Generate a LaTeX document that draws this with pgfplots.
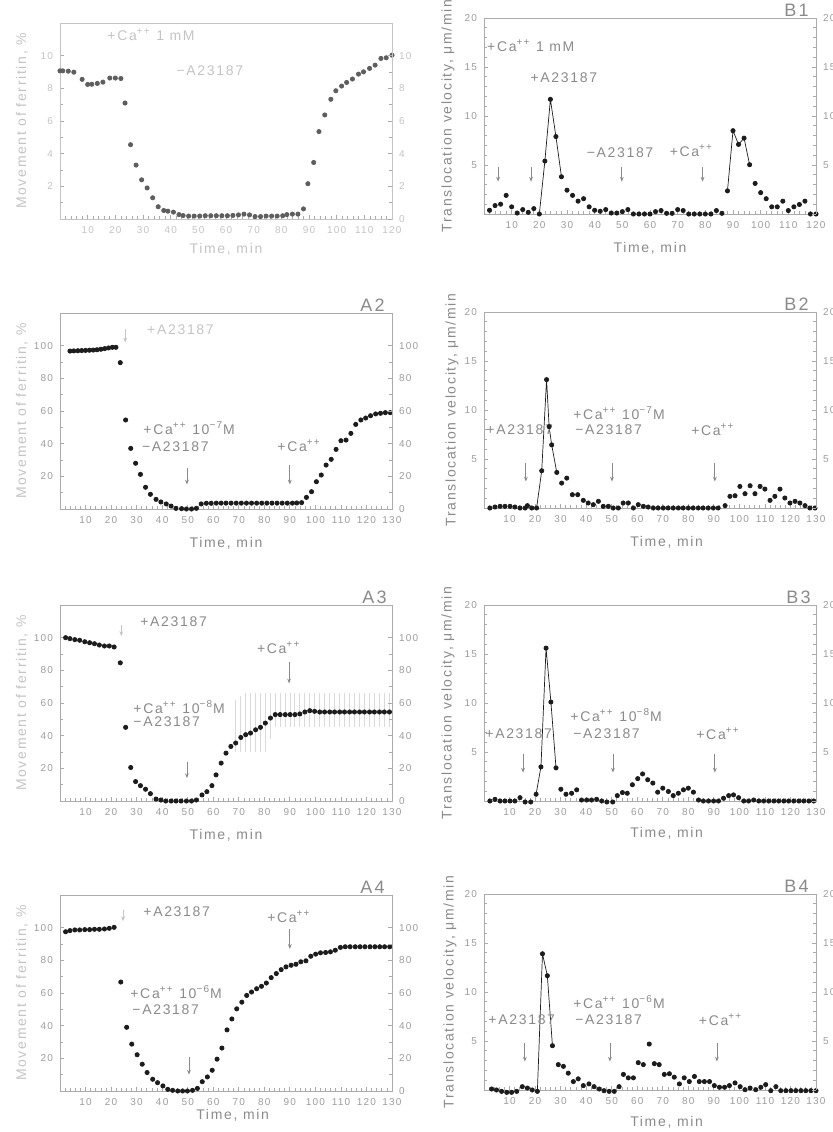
\documentclass[border=0pt]{standalone}
\usepackage{pgfplots}
\pgfplotsset{compat=1.18}
\usepackage{fontspec}
\setmainfont{Liberation Sans}[LetterSpace=12]
\usetikzlibrary{arrows.meta}
\definecolor{axc}{HTML}{ABABAB}
\definecolor{tlc}{HTML}{9C9C9C}
\definecolor{anc}{HTML}{8A8A8A}
\definecolor{fad}{HTML}{C4C4C4}
\definecolor{mk}{HTML}{1C1C1C}
\definecolor{mka}{HTML}{5E5E5E}
\definecolor{ebc}{HTML}{DADADA}
\newcommand{\tl}{\fontsize{5}{6}\selectfont}
\newcommand{\an}{\fontsize{7}{8}\selectfont}
\newcommand{\pl}{\fontsize{9}{10}\selectfont}
\newcommand{\Ca}{Ca\textsuperscript{++}}
\tikzset{
  ann/.style={anchor=west, font=\an, text=anc, inner sep=0pt},
  arr/.style={draw=anc, line width=0.4pt, -{Stealth[length=2.4pt,width=1.9pt]}},
  tlab/.style={font=\an, text=anc},
  plab/.style={anchor=south east, font=\pl, text=anc, inner sep=0.5pt},
  ylabB/.style={rotate=90, font=\an, text=anc},
}
\pgfplotsset{
  base/.style={scale only axis, width=166pt, height=98pt, clip=false,
    axis line style={draw=axc, line width=0.45pt},
    tick style={draw=axc, line width=0.35pt},
    tick align=inside, major tick length=2.2pt, minor tick length=1.3pt,
    tick label style={font=\tl, text=tlc},
    /pgf/number format/assume math mode=true,
    xtick pos=bottom, minor x tick num=4},
  Ax/.style={base, xmin=0, xmax=130, ymin=0, ymax=120,
    xtick={0,10,...,130}, xticklabels={,10,20,30,40,50,60,70,80,90,100,110,120,130},
    ytick={0,20,...,100}, minor y tick num=1},
  AL/.style={Ax, ytick pos=left, yticklabels={,20,40,60,80,100}},
  AR/.style={Ax, axis x line=none, axis y line*=right, yticklabels={0,20,40,60,80,100}},
  Bx/.style={base, xmin=0, xmax=130, ymin=0, ymax=20,
    xtick={0,10,...,130}, xticklabels={,10,20,30,40,50,60,70,80,90,100,110,120,130},
    ytick={0,5,10,15,20}, minor y tick num=4},
  BL/.style={Bx, ytick pos=left, yticklabels={,5,10,15,20}},
  BR/.style={Bx, axis x line=none, axis y line*=right, yticklabels={,5,10,15,20}},
  dots/.style={only marks, mark=*, mark size=1.05pt, mark options={draw=mk, fill=mk}},
  pk/.style={mk, line width=0.35pt, mark=none},
}
\begin{document}
\begin{tikzpicture}
\path[use as bounding box] (0pt,0pt) rectangle (416pt,566pt);

% ---------------- A1 ----------------
\begin{axis}[base, at={(30pt,456.5pt)}, anchor=south west, xmin=0, xmax=120, ymin=0, ymax=12,
  xtick={0,10,...,120}, xticklabels={,10,20,30,40,50,60,70,80,90,100,110,120},
  ytick={0,2,...,10}, minor y tick num=1, ytick pos=left, yticklabels={,2,4,6,8,10},
  axis line style={draw=fad}, tick label style={text=fad}]
\addplot[dots, mark options={draw=mka, fill=mka}] coordinates {
(0,9.07)(1,9.07)(3,9.05)(5,8.99)(8,8.55)(10,8.24)(11.5,8.25)(13.5,8.30)(15.5,8.38)(18,8.63)(20,8.63)(22,8.60)
(23.5,7.1)(25.5,4.55)(27.5,3.3)(29.5,2.4)(31.5,1.9)(33.5,1.3)(35.5,0.75)(37.5,0.52)(39,0.48)(41,0.42)(43,0.27)(44.5,0.21)
(46.5,0.18)(48.5,0.18)(50.5,0.18)(52.5,0.2)(54.5,0.2)(56.5,0.2)(58.5,0.2)(60.5,0.2)(62.5,0.22)(64.5,0.25)(66.5,0.3)(68.5,0.25)
(70.5,0.15)(72.5,0.15)(74.5,0.18)(76.5,0.18)(78.5,0.18)(80.5,0.2)(82,0.27)(84,0.3)(86,0.3)(88,0.62)(89.6,2.16)(91.7,3.46)
(93.6,5.35)(95.7,6.37)(97.9,7.33)(99.7,7.85)(101.8,8.14)(103.6,8.36)(105.7,8.57)(107.9,8.87)(109.7,9.01)(111.9,9.22)
(113.9,9.42)(116,9.83)(117.9,9.87)(120,10.03)};
\node[ann, text=fad] at (axis cs:17,11.3) {+\Ca{} 1 mM};
\node[ann, text=fad] at (axis cs:42,9.1) {−A23187};
\node[tlab, text=fad] at ([yshift=-15pt]rel axis cs:0.5,0) {Time, min};
\node[ylabB, text=fad] at ([xshift=-19pt]rel axis cs:0,0.5) {Movement of ferritin, \%};
\end{axis}
\begin{axis}[base, at={(30pt,456.5pt)}, anchor=south west, xmin=0, xmax=120, ymin=0, ymax=12,
  axis x line=none, axis y line*=right, ytick={0,2,...,10}, minor y tick num=1,
  axis line style={draw=fad}, tick label style={text=fad}]
\end{axis}

% ---------------- B1 ----------------
\begin{axis}[Bx, at={(242pt,459pt)}, anchor=south west, xmax=120,
  xtick={0,10,...,120}, xticklabels={,10,20,30,40,50,60,70,80,90,100,110,120},
  ytick pos=left, yticklabels={,5,10,15,20}]
\addplot[pk] coordinates {(20,0)(22,5.4)(24,11.7)(26,7.9)(28,3.8)};
\addplot[pk] coordinates {(88,2.36)(90,8.5)(92,7.1)(94,7.74)(96,5.03)};
\addplot[dots] coordinates {
(2,0.38)(4,0.86)(6,1.0)(8,1.9)(10,0.73)(12,0.1)(14,0.45)(16,0.17)(18,0.55)(20,0)(22,5.4)(24,11.7)(26,7.9)(28,3.8)
(30,2.43)(32,1.9)(34,1.31)(36,1.56)(38,0.73)(40,0.38)(42,0.28)(44,0.45)(46,0.1)(48,0.1)(50,0.24)(52,0.45)(54,0)(56,0)
(58,0)(60,0)(62,0.24)(64,0.35)(66,0.07)(68,0.07)(70,0.45)(72,0.35)(74,0)(76,0)(78,0)(80,0)(82,0)(84,0.35)(86,0.07)
(88,2.36)(90,8.5)(92,7.1)(94,7.74)(96,5.03)(98,3.12)(100,2.18)(102,1.56)(104,0.73)(106,0.73)(108,1.31)(110,0.35)
(112,0.73)(114,0.97)(116,1.31)(118,0)(120,0)};
\node[ann] at (axis cs:1,17.2) {+\Ca{} 1 mM};
\node[ann] at (axis cs:16.7,13.9) {+A23187};
\node[ann] at (axis cs:37,6.3) {−A23187};
\node[ann] at (axis cs:67,6.5) {+\Ca};
\draw[arr] (axis cs:5.1,4.8) -- (axis cs:5.1,3.3);
\draw[arr] (axis cs:17,4.8) -- (axis cs:17,3.3);
\draw[arr] (axis cs:49.8,4.8) -- (axis cs:49.8,3.3);
\draw[arr] (axis cs:79,4.8) -- (axis cs:79,3.3);
\node[plab] at ([xshift=-3pt]rel axis cs:1,1) {B1};
\node[tlab] at ([yshift=-17pt]rel axis cs:0.5,0) {Time, min};
\node[ylabB] at ([xshift=-18pt]rel axis cs:0,0.5) {Translocation velocity, μm/min};
\end{axis}
\begin{axis}[BR, at={(242pt,459pt)}, anchor=south west, xmax=120]
\end{axis}

% ---------------- A2 ----------------
\begin{axis}[AL, at={(30pt,311.5pt)}, anchor=south west]
\addplot[dots] coordinates {
(3.9,96.7)(5.4,96.8)(7,96.9)(8.5,97.0)(10,97.1)(11.5,97.2)(13,97.3)(14.5,97.5)(16,97.8)(17.5,98.2)(19,98.6)(20.5,99.0)(21.9,99.0)
(23.6,89.6)(25.7,54.5)(27.7,37.1)(29.6,28)(31.5,21.2)(33.5,13.3)(35.4,9.0)(37.6,5.9)(39.5,4.3)(41.6,3.1)(43.5,1.8)(45.4,0.4)
(47.6,0.2)(49.5,0)(51.5,0)(53.4,0.4)(55.3,3.1)(57.3,3.5)(59.2,3.5)(61.2,3.6)(63.1,3.6)(65,3.6)(67,3.6)(69,3.6)(71,3.6)(73,3.6)
(75,3.6)(77,3.6)(79,3.6)(81,3.6)(83,3.6)(85,3.6)(87,3.6)(89,3.6)(91,3.6)(92.7,3.7)(94.6,3.9)(96.5,7.1)(98.5,10.6)(100.4,16.7)
(102.3,20.8)(104.2,26.9)(106.2,30.4)(108.1,36.5)(110,41.8)(112,42.2)(113.9,46.3)(115.8,51.8)(117.8,54.5)(119.7,55.7)
(121.6,57.1)(123.6,58.2)(125.5,58.6)(127.4,59.0)(129.3,59.0)};
\node[ann, text=fad] at (axis cs:34,109.6) {+A23187};
\draw[arr, draw=fad] (axis cs:25.5,110) -- (axis cs:25.5,102);
\node[ann] at (axis cs:32.5,49.6) {+\Ca{} 10\textsuperscript{−7}M};
\node[ann] at (axis cs:32,38) {−A23187};
\node[ann] at (axis cs:85,39) {+\Ca};
\draw[arr] (axis cs:49.7,25) -- (axis cs:49.7,15);
\draw[arr] (axis cs:90,27) -- (axis cs:90,15);
\node[plab] at ([xshift=-3pt]rel axis cs:1,1) {A2};
\node[tlab] at ([yshift=-17pt]rel axis cs:0.5,0) {Time, min};
\node[ylabB, text=fad] at ([xshift=-19pt]rel axis cs:0,0.5) {Movement of ferritin, \%};
\end{axis}
\begin{axis}[AR, at={(30pt,311.5pt)}, anchor=south west]
\end{axis}

% ---------------- B2 ----------------
\begin{axis}[BL, at={(242pt,312pt)}, anchor=south west]
\addplot[pk] coordinates {(20.6,0)(22.6,3.8)(24.5,13.1)(25.5,8.3)(26.5,6.44)(28.5,3.63)};
\addplot[dots] coordinates {
(2.3,0)(4.3,0.1)(6.3,0.17)(8.2,0.17)(10.2,0.17)(12.1,0.1)(14.1,0)(16.1,0)(17,0.24)(18.7,0)(20.6,0)(22.6,3.8)(24.5,13.1)
(25.5,8.3)(26.5,6.44)(28.5,3.63)(30.4,2.54)(32.4,3.05)(34.6,1.36)(36.7,1.36)(38.9,0.78)(40.8,0.51)(42.8,0.34)(44.8,0.68)
(46.7,0.17)(48.7,0.17)(50.6,0)(52.6,0)(54.5,0.51)(56.5,0.51)(58.5,0)(60.4,0.34)(62.4,0.17)(64.3,0.1)(66.3,0)(68.2,0)
(70.2,0)(72.1,0)(74.1,0)(76.1,0)(78,0)(80,0)(81.9,0)(83.9,0)(85.8,0)(87.8,0)(89.8,0)(91.7,0)(94.4,0.24)(96.3,1.19)
(98.3,1.25)(100.2,2.2)(102.2,1.46)(104.2,2.27)(106.1,1.46)(108.1,2.2)(110,1.93)(112,0.78)(113.9,1.19)(115.9,1.93)
(117.8,1.02)(119.8,0.51)(121.8,0.68)(123.7,0.51)(125.7,0.24)(127.6,0)(129.6,0)};
\node[ann] at (axis cs:0.8,8.0) {+A23187};
\node[ann] at (axis cs:34.8,9.7) {+\Ca{} 10\textsuperscript{−7}M};
\node[ann] at (axis cs:35.6,8.0) {−A23187};
\node[ann] at (axis cs:81,8.0) {+\Ca};
\draw[arr] (axis cs:16.4,4.6) -- (axis cs:16.4,2.7);
\draw[arr] (axis cs:50.1,4.6) -- (axis cs:50.1,2.7);
\draw[arr] (axis cs:90.4,4.6) -- (axis cs:90.4,2.7);
\node[plab] at ([xshift=-3pt]rel axis cs:1,1) {B2};
\node[tlab] at ([yshift=-17pt]rel axis cs:0.55,0) {Time, min};
\node[ylabB] at ([xshift=-16pt]rel axis cs:0,0.5) {Translocation velocity, μm/min};
\end{axis}
\begin{axis}[BR, at={(242pt,312pt)}, anchor=south west]
\end{axis}

% ---------------- A3 ----------------
\begin{axis}[AL, at={(30pt,165.5pt)}, anchor=south west]
\addplot[draw=none, mark=*, mark size=0pt, forget plot,
  error bars/.cd, y dir=both, y explicit, error mark=none,
  error bar style={draw=ebc, line width=0.5pt}] coordinates {
(68.8,46) +- (0,16) (70.8,47) +- (0,17) (72.7,48) +- (0,18) (74.6,48) +- (0,18) (76.6,48) +- (0,18) (78.5,48) +- (0,18)
(80.4,48) +- (0,18) (82.4,52) +- (0,14) (84.3,55.5) +- (0,10.5) (86.2,55.5) +- (0,10.5) (88.2,55.5) +- (0,10.5)
(90.1,55.5) +- (0,10.5) (92,55.5) +- (0,10.5) (93.9,55.5) +- (0,10.5) (95.9,55.5) +- (0,10.5) (97.8,55.5) +- (0,10.5)
(99.7,55.5) +- (0,10.5) (101.7,55.5) +- (0,10.5) (103.6,55.5) +- (0,10.5) (105.6,55.5) +- (0,10.5) (107.5,55.5) +- (0,10.5)
(109.5,55.5) +- (0,10.5) (111.4,55.5) +- (0,10.5) (113.4,55.5) +- (0,10.5) (115.3,55.5) +- (0,10.5) (117.3,55.5) +- (0,10.5)
(119.2,55.5) +- (0,10.5) (121.2,55.5) +- (0,10.5) (123.1,55.5) +- (0,10.5) (125.1,55.5) +- (0,10.5) (127,55.5) +- (0,10.5)
(129,55.5) +- (0,10.5)};
\addplot[dots] coordinates {
(2.2,100)(3.9,99.4)(5.8,98.8)(7.7,98.4)(9.7,97.5)(11.6,96.9)(13.5,96.3)(15.4,95.5)(17.4,94.9)(19.3,94.9)(21.2,94.3)
(23.6,84.6)(25.7,45.1)(27.7,20.5)(29.6,11.9)(31.5,9.4)(33.5,7.2)(35.4,4.5)(37.6,1.2)(39.5,0.6)(41.4,0)(43.5,0)(45.4,0)
(47.4,0)(49.5,0)(51.5,0)(53.4,0.6)(55.6,3.7)(57.5,5.7)(59.5,9.4)(61.1,16)(63.1,23.2)(65,29.3)(66.9,33.4)(68.8,35.5)
(70.8,38.9)(72.7,40.6)(74.6,41.6)(76.6,43.6)(78.5,45.1)(80.4,47.7)(82.4,50.8)(84.3,52.9)(86.2,52.9)(88.2,52.9)(90.1,52.9)
(92,52.9)(93.9,53.3)(95.9,54.5)(97.8,55.3)(99.7,54.9)(101.7,54.5)(103.6,54.5)(105.6,54.5)(107.5,54.5)(109.5,54.5)
(111.4,54.5)(113.4,54.5)(115.3,54.5)(117.3,54.5)(119.2,54.5)(121.2,54.5)(123.1,54.5)(125.1,54.5)(127,54.5)(129,54.5)};
\node[ann] at (axis cs:31.3,109.6) {+A23187};
\draw[arr, draw=fad] (axis cs:24,108) -- (axis cs:24,101);
\node[ann] at (axis cs:77,94) {+\Ca};
\draw[arr] (axis cs:89.7,85) -- (axis cs:89.7,72);
\node[ann] at (axis cs:28.6,57.6) {+\Ca{} 10\textsuperscript{−8}M};
\node[ann] at (axis cs:28.6,48.4) {−A23187};
\draw[arr] (axis cs:49.7,24) -- (axis cs:49.7,14);
\node[plab] at ([xshift=-2pt]rel axis cs:1,1) {A3};
\node[tlab] at ([yshift=-17pt]rel axis cs:0.5,0) {Time, min};
\node[ylabB, text=fad] at ([xshift=-19pt]rel axis cs:0,0.5) {Movement of ferritin, \%};
\end{axis}
\begin{axis}[AR, at={(30pt,165.5pt)}, anchor=south west]
\end{axis}

% ---------------- B3 ----------------
\begin{axis}[BL, at={(242pt,165.5pt)}, anchor=south west]
\addplot[pk] coordinates {(20.4,0.69)(22.3,3.48)(24.3,15.6)(26.2,10.1)(28.2,3.38)};
\addplot[dots] coordinates {
(2.3,0)(4.3,0.17)(6.3,0)(8.2,0)(10.2,0)(12.1,0)(14.1,0.34)(16.1,-0.1)(18.3,-0.1)(20.4,0.69)(22.3,3.48)(24.3,15.6)
(26.2,10.1)(28.2,3.38)(30.1,1.2)(32.1,0.69)(34.3,0.79)(36.3,1.14)(38.2,0.1)(40.2,0.1)(42.1,0.1)(44.1,0.17)(46.1,0)
(48.1,-0.1)(50.4,-0.1)(52.2,0.55)(54.2,0.86)(56.1,0.79)(58.1,1.66)(60.2,2.28)(62.1,2.76)(64.1,2.17)(66.1,1.83)(68,0.9)
(70,1.31)(72.2,0.97)(74.1,0.55)(76.1,0.79)(78.1,1.14)(80,1.31)(82,0.9)(84,0.1)(85.9,0)(87.9,0)(89.9,0)(91.8,0)
(93.8,0.28)(95.8,0.55)(97.7,0.62)(99.7,0.34)(101.7,0)(103.6,0)(105.6,0.1)(107.6,0)(109.5,0)(111.5,0)(113.5,0)(115.4,0)
(117.4,0)(119.3,0)(121.3,0)(123.3,0)(125.2,0)(127.2,0)(129.1,0)};
\node[ann] at (axis cs:0.4,6.9) {+A23187};
\node[ann] at (axis cs:33.7,8.8) {+\Ca{} 10\textsuperscript{−8}M};
\node[ann] at (axis cs:34.8,6.9) {−A23187};
\node[ann] at (axis cs:83,6.9) {+\Ca};
\draw[arr] (axis cs:15.3,4.8) -- (axis cs:15.3,2.9);
\draw[arr] (axis cs:50.5,4.8) -- (axis cs:50.5,2.9);
\draw[arr] (axis cs:90.4,4.8) -- (axis cs:90.4,2.9);
\node[plab] at ([xshift=-2pt]rel axis cs:1,1) {B3};
\node[tlab] at ([yshift=-16pt]rel axis cs:0.55,0) {Time, min};
\node[ylabB] at ([xshift=-18pt]rel axis cs:0,0.5) {Translocation velocity, μm/min};
\end{axis}
\begin{axis}[BR, at={(242pt,165.5pt)}, anchor=south west]
\end{axis}

% ---------------- A4 ----------------
\begin{axis}[AL, at={(30pt,20.5pt)}, anchor=south west]
\addplot[dots] coordinates {
(2.2,97.5)(3.9,98.2)(5.8,98.6)(7.7,98.6)(9.7,98.8)(11.6,98.8)(13.5,99.0)(15.4,99.0)(17.4,99.2)(19.3,99.6)(21.2,100.2)
(23.8,66.7)(26.1,39)(28.1,28.7)(30.2,22.2)(32.2,16.4)(34.1,11.3)(36.3,7.2)(38.2,5.1)(40.3,3.1)(42.2,1.0)(44.1,0.4)
(46.1,0)(48,0)(49.9,0)(51.9,0.4)(53.8,1.6)(55.7,5.7)(57.7,8.6)(59.6,12.7)(61.5,19.5)(63.4,26.3)(65.4,37.4)(67.3,44.1)
(69.2,50.3)(71.2,54.4)(73.1,58.5)(75,60.6)(77,62.6)(78.9,64.1)(80.8,66.1)(82.7,69.4)(84.7,71.9)(86.6,74.3)(88.5,76)
(90.5,77)(92.4,77.6)(94.3,79.1)(96.3,79.7)(98.2,82.5)(100.1,83.8)(102,84.6)(104,84.8)(105.9,85.2)(107.8,86.2)(109.8,87.9)
(111.7,88.3)(113.6,88.3)(115.6,88.3)(117.5,88.3)(119.4,88.3)(121.4,88.3)(123.3,88.3)(125.2,88.3)(127.1,88.3)(129.1,88.3)};
\node[ann] at (axis cs:32.5,110) {+A23187};
\draw[arr, draw=fad] (axis cs:24.7,111) -- (axis cs:24.7,104);
\node[ann] at (axis cs:81,107) {+\Ca};
\draw[arr] (axis cs:90,99) -- (axis cs:90,87);
\node[ann] at (axis cs:27.4,60.6) {+\Ca{} 10\textsuperscript{−6}M};
\node[ann] at (axis cs:28.2,50) {−A23187};
\draw[arr] (axis cs:50.5,21) -- (axis cs:50.5,10);
\node[plab] at ([xshift=-3pt]rel axis cs:1,1) {A4};
\node[tlab] at ([yshift=-12pt]rel axis cs:0.52,0) {Time, min};
\node[ylabB, text=fad] at ([xshift=-19pt]rel axis cs:0,0.5) {Movement of ferritin, \%};
\end{axis}
\begin{axis}[AR, at={(30pt,20.5pt)}, anchor=south west]
\end{axis}

% ---------------- B4 ----------------
\begin{axis}[BL, at={(242pt,21pt)}, anchor=south west]
\addplot[pk] coordinates {(20.9,-0.14)(22.9,13.9)(24.8,11.66)(26.8,4.52)};
\addplot[dots] coordinates {
(3,0.1)(4.9,0)(6.9,-0.14)(8.9,-0.24)(10.8,-0.24)(12.8,-0.14)(15,0.34)(17,0.2)(18.9,0)(20.9,-0.14)(22.9,13.9)(24.8,11.66)
(26.8,4.52)(29.1,2.59)(31.1,2.41)(33,1.72)(35,0.86)(36.9,1.14)(38.9,0.45)(41.1,0.62)(43.1,0.34)(45.1,0.1)(47,-0.07)
(49,-0.14)(51,-0.14)(52.9,0.34)(54.6,1.59)(56.5,1.24)(58.5,1.24)(60.4,2.79)(62.4,2.59)(64.7,4.69)(66.7,2.69)(68.6,2.59)
(70.6,1.59)(72.6,1.66)(74.5,1.31)(76.5,0.62)(78.4,1.24)(80.4,0.86)(82.4,1.38)(84.3,0.86)(86.3,0.86)(88.3,0.86)(90.2,0.45)
(92.2,0.28)(94.2,0.28)(96.1,0.45)(98.3,0.72)(100.3,0.34)(102.2,0.03)(104.2,0.2)(106.4,0.03)(108.4,0.28)(110.3,0.55)
(112.3,-0.07)(114.3,0.34)(116.2,-0.07)(118.2,-0.07)(120.2,-0.07)(122.1,-0.07)(124.1,-0.07)(126,-0.07)(128,-0.07)(130,-0.07)};
\node[ann] at (axis cs:1.6,7.2) {+A23187};
\node[ann] at (axis cs:34.8,9.0) {+\Ca{} 10\textsuperscript{−6}M};
\node[ann] at (axis cs:35.6,7.2) {−A23187};
\node[ann] at (axis cs:84,7.2) {+\Ca};
\draw[arr] (axis cs:16,4.8) -- (axis cs:16,2.9);
\draw[arr] (axis cs:49.3,4.8) -- (axis cs:49.3,2.9);
\draw[arr] (axis cs:91.2,4.8) -- (axis cs:91.2,2.9);
\node[plab] at ([xshift=-3pt]rel axis cs:1,1) {B4};
\node[tlab] at ([yshift=-16pt]rel axis cs:0.55,0) {Time, min};
\node[ylabB] at ([xshift=-17pt]rel axis cs:0,0.5) {Translocation velocity, μm/min};
\end{axis}
\begin{axis}[BR, at={(242pt,21pt)}, anchor=south west]
\end{axis}
\end{tikzpicture}
\end{document}
